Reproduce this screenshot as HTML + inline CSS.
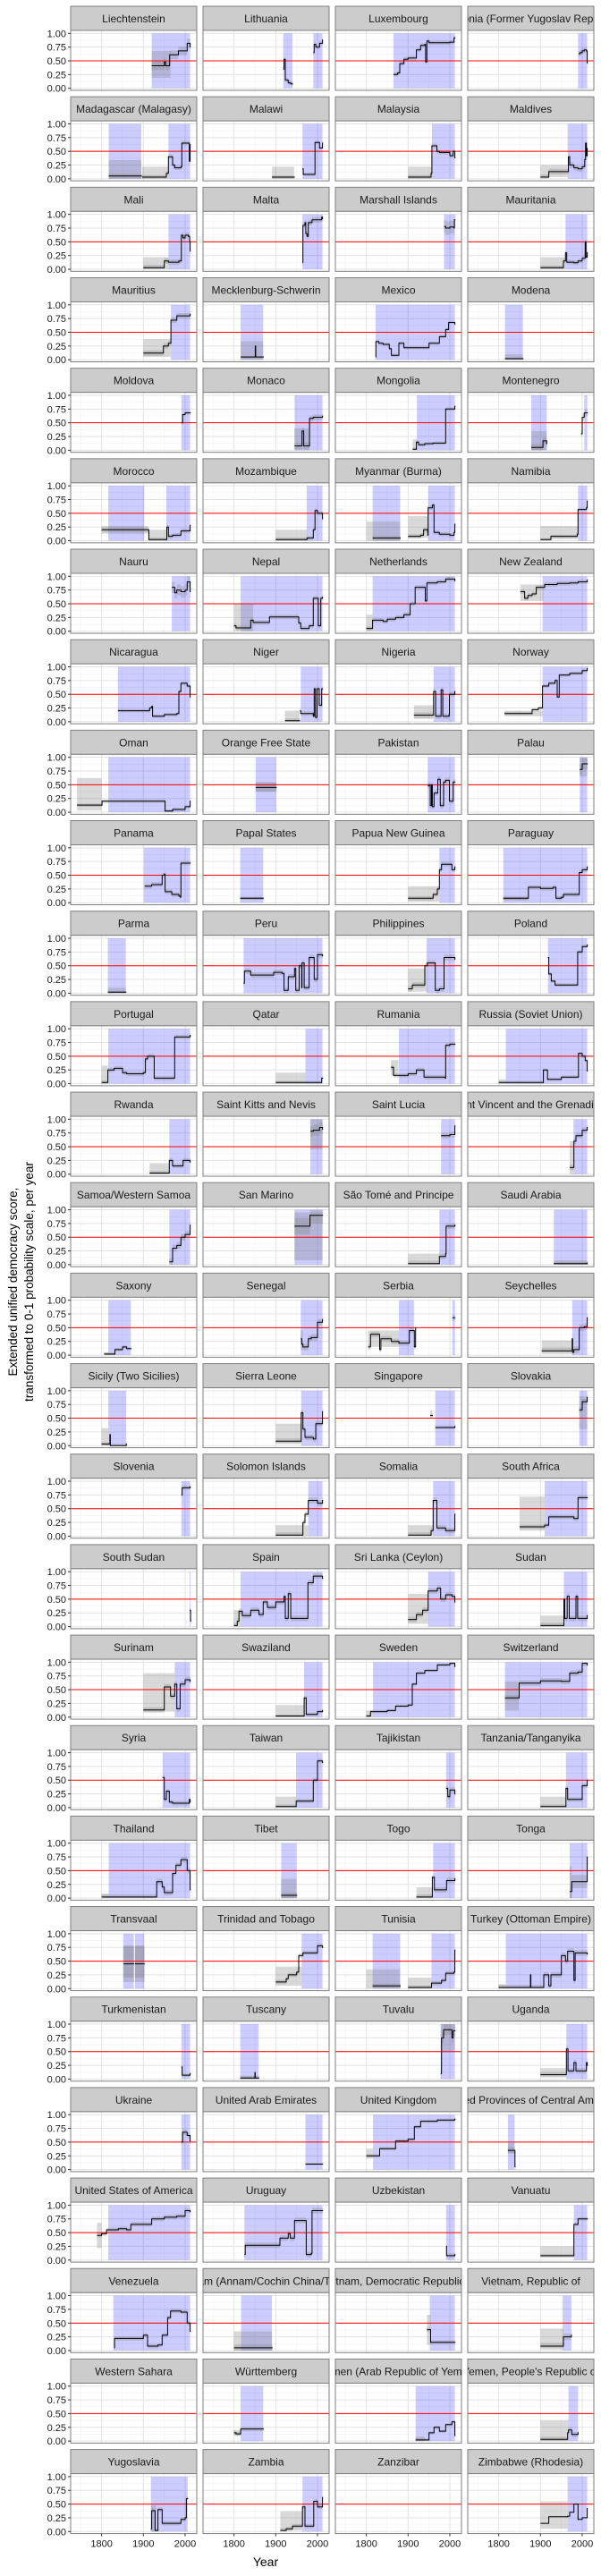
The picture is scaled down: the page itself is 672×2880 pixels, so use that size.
<!DOCTYPE html>
<html><head><meta charset="utf-8">
<style>
body{margin:0;background:#fff;}
#wrap{position:relative;width:672px;height:2880px;overflow:hidden;background:#fff;font-family:"Liberation Sans",Arial,sans-serif;}
svg text{font-family:"Liberation Sans",Arial,sans-serif;}
</style></head>
<body>
<div id="wrap">
<svg id="chart" width="672" height="2880" viewBox="0 0 672 2880" xmlns="http://www.w3.org/2000/svg">
<text x="0" y="0" transform="translate(19,1433) rotate(-90)" text-anchor="middle" font-size="13.5" fill="#000">Extended unified democracy score,</text>
<text x="0" y="0" transform="translate(37,1433) rotate(-90)" text-anchor="middle" font-size="13.5" fill="#000">transformed to 0-1 probability scale, per year</text>
<text x="297" y="2869" text-anchor="middle" font-size="14" fill="#000">Year</text>
</svg>
</div>
<script>
const countries=["Liechtenstein","Lithuania","Luxembourg","Macedonia (Former Yugoslav Republic of)",
"Madagascar (Malagasy)","Malawi","Malaysia","Maldives",
"Mali","Malta","Marshall Islands","Mauritania",
"Mauritius","Mecklenburg-Schwerin","Mexico","Modena",
"Moldova","Monaco","Mongolia","Montenegro",
"Morocco","Mozambique","Myanmar (Burma)","Namibia",
"Nauru","Nepal","Netherlands","New Zealand",
"Nicaragua","Niger","Nigeria","Norway",
"Oman","Orange Free State","Pakistan","Palau",
"Panama","Papal States","Papua New Guinea","Paraguay",
"Parma","Peru","Philippines","Poland",
"Portugal","Qatar","Rumania","Russia (Soviet Union)",
"Rwanda","Saint Kitts and Nevis","Saint Lucia","Saint Vincent and the Grenadines",
"Samoa/Western Samoa","San Marino","São Tomé and Principe","Saudi Arabia",
"Saxony","Senegal","Serbia","Seychelles",
"Sicily (Two Sicilies)","Sierra Leone","Singapore","Slovakia",
"Slovenia","Solomon Islands","Somalia","South Africa",
"South Sudan","Spain","Sri Lanka (Ceylon)","Sudan",
"Surinam","Swaziland","Sweden","Switzerland",
"Syria","Taiwan","Tajikistan","Tanzania/Tanganyika",
"Thailand","Tibet","Togo","Tonga",
"Transvaal","Trinidad and Tobago","Tunisia","Turkey (Ottoman Empire)",
"Turkmenistan","Tuscany","Tuvalu","Uganda",
"Ukraine","United Arab Emirates","United Kingdom","United Provinces of Central America",
"United States of America","Uruguay","Uzbekistan","Vanuatu",
"Venezuela","Vietnam (Annam/Cochin China/Tonkin)","Vietnam, Democratic Republic of","Vietnam, Republic of",
"Western Sahara","Württemberg","Yemen (Arab Republic of Yemen)","Yemen, People's Republic of",
"Yugoslavia","Zambia","Zanzibar","Zimbabwe (Rhodesia)"];
// blue spans per country [start,end]
const blueSpans=[
[[1920,2012]],[[1918,1940],[1990,2012]],[[1865,2012]],[[1990,2012]],
[[1817,1895],[1960,2012]],[[1964,2012]],[[1957,2012]],[[1965,2012]],
[[1960,2012]],[[1964,2012]],[[1986,2012]],[[1960,2012]],
[[1966,2012]],[[1816,1870]],[[1822,2012]],[[1815,1858]],
[[1991,2012]],[[1945,2012]],[[1921,2012]],[[1878,1915],[2005,2012]],
[[1816,1902],[1955,2012]],[[1974,2012]],[[1815,1881],[1948,2012]],[[1990,2012]],
[[1968,2012]],[[1816,2012]],[[1815,2012]],[[1905,2012]],
[[1839,2012]],[[1960,2012]],[[1961,2012]],[[1905,2012]],
[[1816,2012]],[[1852,1901]],[[1947,2012]],[[1994,2012]],
[[1901,2012]],[[1815,1870]],[[1975,2012]],[[1811,2012]],
[[1815,1858]],[[1823,2012]],[[1944,2012]],[[1918,2012]],
[[1816,2012]],[[1971,2012]],[[1878,2012]],[[1817,2012]],
[[1962,2012]],[[1983,2012]],[[1979,2012]],[[1979,2012]],
[[1962,2012]],[[1945,2012]],[[1975,2012]],[[1932,2012]],
[[1816,1870]],[[1960,2012]],[[1878,1914],[2006,2012]],[[1976,2012]],
[[1816,1859]],[[1961,2012]],[[1965,2012]],[[1993,2012]],
[[1991,2012]],[[1978,2012]],[[1960,2012]],[[1910,2012]],
[[2011,2013]],[[1816,2012]],[[1948,2012]],[[1956,2012]],
[[1975,2012]],[[1968,2012]],[[1816,2012]],[[1815,2012]],
[[1946,2012]],[[1949,2012]],[[1991,2012]],[[1961,2012]],
[[1817,2012]],[[1913,1950]],[[1960,2012]],[[1970,2012]],
[[1852,1877],[1880,1902]],[[1962,2012]],[[1815,1881],[1956,2012]],[[1817,2012]],
[[1991,2012]],[[1815,1859]],[[1978,2012]],[[1962,2012]],
[[1991,2012]],[[1971,2012]],[[1816,2012]],[[1822,1838]],
[[1816,2012]],[[1825,2012]],[[1991,2012]],[[1980,2012]],
[[1828,2012]],[[1817,1891]],[[1952,2012]],[[1953,1974]],
[],[[1816,1870]],[[1918,2012]],[[1967,1990]],
[[1918,2006]],[[1964,2012]],[],[[1965,2012]]];
// grey uncertainty boxes [start,end,low,high]
const greyBoxes=[
[[1920,1965,0.19,0.68]],[],[],[],
[[1817,1895,0,0.34],[1897,1960,0,0.22]],[[1891,1944,0,0.22]],[[1900,1957,0,0.22]],[[1900,1965,0.03,0.25]],
[[1900,1960,0,0.22]],[],[],[[1900,1960,0,0.22]],
[[1900,1966,0.05,0.38]],[[1816,1870,0,0.34]],[],[[1815,1858,0,0.1]],
[],[[1945,1980,0,0.4]],[[1911,1921,0,0.2]],[[1878,1915,0,0.35]],
[[1800,1912,0.13,0.27],[1912,1956,0,0.2]],[[1900,1975,0,0.2]],[[1800,1881,0,0.35],[1900,1948,0.05,0.45]],[[1900,1990,0.03,0.27]],
[],[[1800,1846,0,0.5]],[[1800,1815,0,0.3]],[[1852,1907,0.55,0.85]],
[],[[1922,1957,0,0.2]],[[1914,1960,0.05,0.3]],[[1814,1905,0.1,0.2]],
[[1741,1800,0.03,0.62]],[[1852,1901,0.38,0.55]],[],[[1994,2012,0.65,1]],
[],[[1815,1870,0.05,0.11]],[[1900,1975,0.02,0.3]],[[1811,1870,0.05,0.1]],
[[1815,1858,0,0.1]],[],[[1900,1946,0.03,0.45]],[],
[[1800,1815,0,0.33]],[[1900,1971,0,0.2]],[[1859,1877,0.15,0.43]],[[1800,1817,0,0.08]],
[[1915,1962,0,0.2]],[[1983,2012,0.45,1]],[],[[1970,1979,0,0.6]],
[],[[1945,2012,0.08,0.95]],[[1900,1975,0,0.2]],[[1932,2012,0,0.08]],
[[1806,1816,0,0.05]],[[1960,1965,0.1,0.45]],[[1804,1878,0.15,0.45]],[[1903,1976,0.05,0.27]],
[[1800,1816,0,0.32]],[[1900,1961,0.05,0.4]],[[1953,1958,0.5,0.65]],[[1993,2012,0.3,0.9]],
[],[[1900,1978,0,0.2]],[[1900,1960,0,0.2]],[[1850,1910,0.1,0.72]],
[],[[1800,1816,0,0.3]],[[1900,1948,0.05,0.6]],[[1900,1956,0,0.2]],
[[1900,1975,0.1,0.8]],[[1900,1968,0,0.22]],[[1800,1816,0,0.12]],[[1815,1848,0.12,0.65]],
[],[[1900,1949,0,0.2]],[],[[1900,1961,0,0.2]],
[[1800,1817,0,0.08]],[[1913,1950,0,0.35]],[[1920,1960,0,0.2]],[[1970,1975,0,0.58]],
[[1852,1877,0.2,0.78],[1880,1902,0.2,0.78]],[[1900,1962,0.05,0.4]],[[1800,1881,0,0.35],[1900,1956,0,0.2]],[[1800,1817,0,0.08]],
[],[[1815,1859,0,0.06]],[[1978,2012,0.5,1]],[[1900,1962,0.05,0.2]],
[],[],[[1800,1816,0.2,0.38]],[[1822,1838,0.3,0.48]],
[[1789,1800,0.22,0.68]],[],[],[[1900,1980,0.05,0.25]],
[],[[1800,1891,0,0.35]],[[1945,1954,0.1,0.65]],[[1900,1955,0.05,0.4]],
[],[[1800,1816,0.1,0.2]],[[1918,1940,0,0.08]],[[1900,1967,0,0.38]],
[[1918,1930,0,0.48]],[[1911,1964,0.02,0.37]],[],[[1900,1965,0.05,0.55]]];
// series segments, flat [year,value,...]
const series=[
[[1920,.41,1950,.48,1953,.41,1963,.61,1981,.61,1984,.68,2005,.82,2012,.75]],
[[1918,.35,1920,.53,1923,.15,1930,.1,1936,.08,1940,.08],[1990,.65,1992,.8,1996,.75,2005,.82,2012,.88]],
[[1865,.25,1875,.28,1880,.45,1890,.53,1900,.55,1920,.7,1930,.78,1940,.8,1942,.48,1945,.86,1950,.83,2000,.84,2010,.92,2012,.92]],
[[1991,.63,1995,.65,2000,.68,2005,.7,2010,.68,2012,.46]],
[[1817,.05,1895,.05],[1897,.03,1947,.03,1955,.1,1960,.4,1967,.4,1970,.25,1975,.2,1990,.22,1992,.65,2000,.65,2008,.65,2010,.32,2012,.62]],
[[1891,.03,1944,.03],[1964,.18,1966,.08,1993,.08,1994,.66,2005,.56,2012,.65]],
[[1900,.03,1950,.03,1955,.1,1957,.6,1969,.5,1975,.48,2000,.42,2008,.5,2012,.38]],
[[1900,.03,1920,.13,1965,.13,1967,.4,1970,.25,1980,.2,1990,.18,2000,.22,2006,.35,2008,.65,2010,.42,2012,.55]],
[[1900,.03,1946,.03,1950,.15,1960,.13,1985,.15,1991,.62,1995,.57,2000,.62,2008,.6,2011,.5,2012,.33]],
[[1964,.12,1965,.8,1970,.85,1972,.65,1975,.6,1978,.85,1987,.9,2010,.95,2012,.92]],
[[1986,.78,1990,.75,2000,.77,2010,.75,2011,.9,2012,.9]],
[[1900,.03,1955,.15,1960,.3,1963,.13,1980,.12,1990,.15,2000,.2,2007,.5,2009,.22,2012,.3]],
[[1900,.12,1947,.12,1948,.25,1960,.3,1966,.72,1980,.8,2000,.8,2012,.83]],
[[1816,.05,1850,.05,1851,.25,1852,.05,1870,.05]],
[[1822,.05,1823,.33,1830,.3,1840,.28,1855,.2,1860,.08,1875,.08,1878,.3,1890,.22,1935,.22,1950,.3,1975,.42,1990,.55,1997,.68,2012,.65]],
[[1815,.02,1858,.02]],
[[1991,.5,1994,.65,2000,.68,2012,.68]],
[[1945,.08,1962,.08,1963,.35,1967,.08,1980,.08,1981,.58,1990,.6,2012,.62]],
[[1911,.02,1920,.15,1925,.1,1940,.12,1960,.13,1989,.13,1990,.75,2012,.8]],
[[1878,.05,1905,.05,1906,.17,1915,.12],[1997,.3,2000,.6,2005,.68,2012,.68]],
[[1800,.2,1912,.2,1913,.02,1955,.02,1956,.25,1960,.08,1970,.1,1990,.18,2012,.28]],
[[1900,.02,1975,.05,1990,.2,1994,.55,2000,.5,2012,.4]],
[[1815,.05,1881,.05],[1900,.08,1930,.1,1937,.2,1947,.1,1948,.6,1958,.65,1962,.15,1975,.12,2000,.1,2010,.15,2012,.3]],
[[1900,.02,1925,.08,1970,.08,1988,.12,1990,.57,2010,.6,2012,.72]],
[[1968,.8,1975,.7,1980,.75,1990,.72,2000,.75,2005,.9,2012,.72]],
[[1800,.1,1805,.06,1835,.06,1840,.2,1846,.16,1880,.16,1885,.26,1950,.26,1955,.15,1960,.05,1980,.1,1990,.6,2000,.6,2002,.1,2008,.6,2012,.62]],
[[1800,.05,1815,.2,1840,.18,1850,.22,1870,.25,1890,.3,1900,.3,1905,.5,1917,.8,1940,.8,1941,.55,1945,.88,1970,.9,1990,.95,2012,.92]],
[[1852,.72,1860,.72,1862,.6,1870,.65,1880,.68,1890,.8,1910,.85,1940,.87,1970,.88,1990,.9,2012,.93]],
[[1839,.2,1900,.2,1915,.25,1920,.28,1922,.1,1950,.13,1980,.15,1985,.55,1990,.7,2005,.65,2012,.45]],
[[1922,.02,1957,.02],[1958,.2,1960,.15,1990,.1,1992,.6,1995,.08,1999,.6,2004,.3,2010,.6,2012,.6]],
[[1914,.12,1960,.12,1961,.55,1966,.1,1979,.58,1983,.1,1998,.12,1999,.5,2012,.55]],
[[1814,.15,1870,.15,1880,.22,1895,.25,1905,.65,1920,.7,1935,.75,1940,.45,1945,.85,1970,.88,2000,.93,2012,.97]],
[[1741,.13,1800,.13,1801,.2,1950,.2,1952,.02,1970,.05,2000,.1,2012,.2]],
[[1852,.45,1901,.45]],
[[1947,.48,1950,.5,1953,.12,1956,.5,1958,.1,1962,.35,1971,.6,1977,.12,1985,.55,1990,.58,1999,.2,2008,.55,2012,.55]],
[[1994,.78,2000,.88,2012,.88]],
[[1903,.3,1920,.33,1940,.33,1945,.5,1950,.52,1952,.2,1968,.15,1985,.12,1989,.1,1990,.72,2012,.72]],
[[1815,.08,1870,.08]],
[[1900,.08,1950,.08,1960,.15,1970,.25,1975,.6,1980,.7,1995,.7,2005,.6,2012,.65]],
[[1811,.08,1870,.08,1871,.28,1900,.26,1930,.28,1937,.08,1950,.1,1955,.15,1990,.15,1993,.55,2000,.6,2012,.65]],
[[1815,.02,1858,.02]],
[[1823,.18,1825,.4,1840,.33,1890,.33,1895,.38,1915,.36,1920,.05,1930,.3,1945,.45,1948,.05,1956,.5,1962,.1,1963,.55,1968,.1,1980,.65,1990,.65,1992,.25,2000,.7,2012,.68]],
[[1900,.08,1910,.15,1935,.15,1940,.5,1946,.55,1960,.55,1965,.05,1975,.08,1986,.65,2000,.65,2012,.62]],
[[1918,.65,1920,.35,1926,.22,1935,.15,1980,.15,1989,.75,2000,.85,2012,.88]],
[[1800,.02,1815,.25,1830,.28,1850,.2,1860,.18,1900,.2,1905,.45,1910,.5,1926,.1,1970,.1,1975,.85,2012,.88]],
[[1900,.02,1990,.02,2010,.1,2012,.1]],
[[1859,.3,1865,.15,1880,.15,1900,.18,1920,.25,1935,.25,1938,.12,1945,.12,1989,.1,1990,.7,2000,.72,2012,.72]],
[[1800,.02,1905,.02,1907,.25,1917,.08,1930,.08,1950,.12,1985,.12,1991,.55,2000,.5,2007,.42,2012,.23]],
[[1915,.02,1961,.02,1962,.25,1970,.15,1980,.15,1995,.25,2012,.22]],
[[1983,.78,1990,.8,2005,.85,2012,.82]],
[[1979,.7,2000,.72,2012,.88]],
[[1970,.12,1979,.12,1980,.6,1985,.7,2000,.8,2012,.85]],
[[1962,.05,1970,.3,1980,.35,1990,.5,2000,.55,2012,.72]],
[[1945,.7,1980,.7,1982,.9,2012,.9]],
[[1900,.02,1974,.02,1975,.15,1990,.2,1991,.7,2012,.72]],
[[1932,.02,2012,.03]],
[[1806,.02,1830,.02,1832,.1,1845,.1,1850,.15,1860,.12,1870,.12]],
[[1960,.3,1962,.2,1965,.15,1978,.3,1985,.32,2000,.6,2012,.65]],
[[1804,.15,1810,.38,1830,.38,1832,.1,1835,.3,1860,.25,1878,.22,1900,.22,1903,.45,1914,.45,1915,.15,1918,.5],[2006,.68,2012,.68]],
[[1903,.08,1976,.3,1977,.05,1980,.1,1993,.5,2005,.52,2012,.68]],
[[1800,.03,1816,.03,1820,.2,1821,0,1850,0,1859,.03]],
[[1900,.08,1955,.08,1961,.6,1965,.3,1970,.15,1990,.12,1996,.4,2012,.62]],
[[1953,.55,1958,.55],[1965,.33,2012,.35]],
[[1993,.65,2000,.8,2012,.88]],
[[1991,.75,1993,.88,2012,.9]],
[[1900,.02,1960,.02,1965,.25,1970,.4,1978,.65,2000,.6,2012,.65]],
[[1900,.02,1955,.1,1960,.65,1969,.15,1990,.1,2010,.1,2012,.4]],
[[1850,.17,1910,.2,1920,.35,1960,.35,1980,.32,1990,.7,2012,.7]],
[[2011,.3,2013,.1]],
[[1800,.02,1808,.1,1812,.28,1820,.2,1840,.3,1860,.22,1870,.45,1880,.35,1900,.45,1920,.55,1923,.15,1930,.6,1936,.15,1975,.15,1977,.8,1990,.92,2012,.88]],
[[1900,.13,1920,.22,1935,.3,1948,.65,1970,.7,1978,.5,1990,.58,2005,.55,2012,.45]],
[[1900,.02,1956,.5,1958,.15,1964,.55,1969,.15,1985,.55,1989,.15,2012,.2]],
[[1900,.13,1948,.13,1950,.55,1965,.38,1975,.6,1980,.15,1988,.6,2000,.68,2012,.65]],
[[1900,.02,1968,.35,1973,.05,2000,.1,2012,.12]],
[[1800,.02,1810,.1,1850,.12,1870,.2,1900,.22,1910,.6,1920,.8,1940,.85,1970,.95,2000,.98,2012,.92]],
[[1815,.35,1848,.35,1849,.62,1900,.66,1950,.65,1970,.8,1990,.82,2000,.98,2012,.95]],
[[1946,.55,1950,.15,1955,.3,1962,.1,1970,.08,2000,.08,2010,.15,2012,.1]],
[[1900,.02,1949,.12,1985,.12,1990,.5,2000,.85,2012,.82]],
[[1991,.35,1995,.2,2000,.32,2012,.25]],
[[1900,.02,1961,.35,1965,.15,1990,.15,2000,.4,2012,.5]],
[[1800,.02,1932,.3,1945,.2,1950,.1,1970,.45,1978,.6,1990,.7,2005,.5,2012,.15]],
[[1913,.05,1950,.05]],
[[1920,.02,1958,.38,1963,.15,1990,.15,1992,.32,2012,.35]],
[[1970,.12,1975,.3,2000,.3,2010,.3,2012,.75]],
[[1852,.45,1877,.45],[1880,.45,1902,.45]],
[[1900,.12,1920,.12,1925,.18,1930,.25,1950,.3,1955,.6,1965,.65,2000,.78,2012,.75]],
[[1815,.05,1881,.05],[1900,.02,1956,.1,1980,.15,1990,.28,2010,.3,2012,.7]],
[[1800,.02,1876,.25,1877,.02,1908,.25,1920,.05,1925,.25,1945,.25,1950,.6,1960,.5,1965,.68,1980,.15,1983,.65,2012,.63]],
[[1991,.22,1993,.07,2012,.1]],
[[1815,.02,1850,.12,1851,.02,1859,.02]],
[[1978,.1,1980,.75,1985,.9,2000,.9,2005,.75,2008,.88,2012,.88]],
[[1900,.08,1962,.55,1966,.15,1980,.3,1985,.15,2000,.15,2010,.3,2012,.25]],
[[1991,.5,1994,.68,2005,.62,2012,.52]],
[[1971,.1,2012,.1]],
[[1800,.25,1830,.25,1832,.38,1865,.38,1870,.52,1900,.55,1915,.78,1930,.88,1950,.88,1970,.9,2012,.92]],
[[1822,.35,1838,.35,1839,.05]],
[[1789,.45,1800,.48,1812,.55,1840,.57,1860,.55,1870,.65,1900,.65,1920,.75,1950,.78,1980,.8,2000,.9,2012,.88]],
[[1825,.1,1827,.27,1900,.27,1910,.4,1930,.48,1935,.4,1945,.72,1970,.72,1973,.1,1985,.12,1987,.9,2012,.9]],
[[1991,.25,1992,.08,2012,.1]],
[[1900,.08,1975,.08,1980,.65,1990,.75,2012,.75]],
[[1830,.05,1831,.22,1860,.22,1900,.28,1910,.08,1935,.1,1945,.28,1958,.6,1965,.72,1990,.7,2005,.5,2012,.35]],
[[1800,.05,1891,.05]],
[[1945,.38,1954,.15,2012,.15]],
[[1900,.08,1950,.08,1955,.25,1974,.28]],
[],
[[1800,.15,1805,.13,1816,.22,1870,.22]],
[[1918,.02,1940,.02,1950,.15,1962,.25,1975,.18,1990,.3,2005,.35,2012,.1]],
[[1900,.03,1960,.03,1965,.15,1967,.2,1975,.12,1990,.15]],
[[1918,.05,1920,.38,1928,.02,1935,.4,1945,.15,1980,.15,1990,.22,2000,.25,2003,.6,2006,.6]],
[[1911,.02,1925,.05,1940,.1,1964,.45,1970,.1,1990,.1,1991,.55,2000,.45,2012,.62]],
[],
[[1900,.15,1920,.27,1965,.28,1970,.35,1980,.5,1990,.22,2000,.25,2012,.42]]];
const bandWidth=[.08,.04,.04,.05,.04,.03,.04,.05,.05,.05,.12,.04,.05,.02,.03,.02,.03,.05,.03,.06,.04,.04,.04,.03,.1,.04,.04,.04,.03,.04,.05,.03,.03,.08,.05,.1,.04,.02,.04,.04,.02,.05,.05,.03,.04,.03,.04,.03,.04,.1,.05,.05,.06,.15,.05,.03,.03,.06,.05,.06,.03,.05,.03,.05,.04,.05,.05,.04,.05,.05,.05,.05,.05,.03,.03,.05,.04,.04,.05,.04,.05,.05,.05,.12,.33,.04,.04,.05,.03,.03,.1,.05,.05,.02,.03,.06,.04,.05,.04,.03,.04,.06,.04,.06,.03,.04,.03,.05,.04,.04,.04];
const xTicks=[1800,1900,2000];
const xMinor=[1750,1850,1950];
const yTicks=[0,0.25,0.5,0.75,1];
const yTickLabels=["0.00","0.25","0.50","0.75","1.00"];
const refLine=0.5;

const NS="http://www.w3.org/2000/svg";
const svg=document.getElementById('chart');
const colX=[79,227,375,523],PW=141,ROW0=7,PITCH=101.17,STRIPH=27,PH=67;
const YMIN=1725.9,PXY=0.467;
function el(tag,attrs,parent){const e=document.createElementNS(NS,tag);for(const k in attrs)e.setAttribute(k,attrs[k]);(parent||svg).appendChild(e);return e;}
function sx(x0,yr){return x0+(Math.max(YMIN,Math.min(2028,yr))-YMIN)*PXY;}
function sy(pt,v){v=Math.max(0,Math.min(1,v));return pt+3.3+(1-v)*61.4;}
const nRows=Math.ceil(countries.length/4);
countries.forEach((name,i)=>{
  const c=i%4,r=Math.floor(i/4);
  const x0=colX[c],st=ROW0+r*PITCH,pt=st+STRIPH;
  const g=el('g',{});
  
  
  // clip
  const cid='clip'+i;
  const cp=el('clipPath',{id:cid},g);el('rect',{x:x0,y:pt,width:PW,height:PH},cp);
  const strip=el('rect',{x:x0,y:st,width:PW,height:STRIPH,fill:'#cccccc',stroke:'#7f7f7f','stroke-width':1},g);
  
  
  const scp=el('clipPath',{id:'s'+cid},g);el('rect',{x:x0,y:st,width:PW,height:STRIPH},scp);
  const t=el('text',{x:x0+PW/2,y:st+18,'text-anchor':'middle','font-size':'12',fill:'#1a1a1a','clip-path':'url(#s'+cid+')'},g);
  t.textContent=name;
  
  
  const bg=el('rect',{x:x0,y:pt,width:PW,height:PH,fill:'#fff'},g);
  const inner=el('g',{'clip-path':'url(#'+cid+')'},g);
  xMinor.forEach(yr=>el('line',{x1:sx(x0,yr),x2:sx(x0,yr),y1:pt,y2:pt+PH,stroke:'#f2f2f2','stroke-width':0.6},inner));
  [0.125,0.375,0.625,0.875].forEach(v=>el('line',{x1:x0,x2:x0+PW,y1:sy(pt,v),y2:sy(pt,v),stroke:'#f2f2f2','stroke-width':0.6},inner));
  xTicks.forEach(yr=>el('line',{x1:sx(x0,yr),x2:sx(x0,yr),y1:pt,y2:pt+PH,stroke:'#e3e3e3','stroke-width':1},inner));
  yTicks.forEach(v=>el('line',{x1:x0,x2:x0+PW,y1:sy(pt,v),y2:sy(pt,v),stroke:'#e3e3e3','stroke-width':1},inner));
  blueSpans[i].forEach(s=>{
    const b=el('rect',{x:sx(x0,s[0]),y:sy(pt,1),width:sx(x0,s[1])-sx(x0,s[0]),height:sy(pt,0)-sy(pt,1),fill:'#0000ff','fill-opacity':0.2},inner);
    
    
  });
  greyBoxes[i].forEach(s=>{
    const b=el('rect',{x:sx(x0,s[0]),y:sy(pt,s[3]),width:sx(x0,s[1])-sx(x0,s[0]),height:sy(pt,s[2])-sy(pt,s[3]),fill:'#808080','fill-opacity':0.3},inner);
    
    
  });
  const hw=bandWidth[i];
  series[i].forEach(seg=>{
    const n=seg.length/2;if(n<1)return;
    let up='',lo=[];
    for(let k=0;k<n;k++){
      const yr=seg[2*k],v=seg[2*k+1];
      const xa=sx(x0,yr),xb=k<n-1?sx(x0,seg[2*k+2]):xa+0.6;
      up+=(k?'L':'M')+xa.toFixed(1)+','+sy(pt,v+hw).toFixed(1)+'L'+xb.toFixed(1)+','+sy(pt,v+hw).toFixed(1);
      lo.unshift('L'+xb.toFixed(1)+','+sy(pt,v-hw).toFixed(1)+'L'+xa.toFixed(1)+','+sy(pt,v-hw).toFixed(1));
    }
    const rb=el('path',{d:up+lo.join('')+'Z',fill:'#808080','fill-opacity':0.3},inner);
    
    
  });
  el('line',{x1:x0,x2:x0+PW,y1:sy(pt,refLine),y2:sy(pt,refLine),stroke:'#ff0000','stroke-width':1},inner);
  series[i].forEach(seg=>{
    const n=seg.length/2;if(n<1)return;
    let d='';
    for(let k=0;k<n;k++){
      const xa=sx(x0,seg[2*k]),ya=sy(pt,seg[2*k+1]);
      if(k===0)d+='M'+xa.toFixed(1)+','+ya.toFixed(1);
      else d+='H'+xa.toFixed(1)+'V'+ya.toFixed(1);
    }
    d+='h0.6';
    const ln=el('path',{d:d,fill:'none',stroke:'#000000','stroke-width':1},inner);
    
    
  });
  el('rect',{x:x0,y:pt,width:PW,height:PH,fill:'none',stroke:'#7f7f7f','stroke-width':1},g);
  if(c===0){
    yTicks.forEach((v,k)=>{
      el('line',{x1:x0-3,x2:x0,y1:sy(pt,v),y2:sy(pt,v),stroke:'#333','stroke-width':1},g);
      const tl=el('text',{x:x0-5,y:sy(pt,v)+4,'text-anchor':'end','font-size':'11',fill:'#1a1a1a'},g);
      tl.textContent=yTickLabels[k];
      
      
    });
  }
  if(r===nRows-1){
    xTicks.forEach(yr=>{
      el('line',{x1:sx(x0,yr),x2:sx(x0,yr),y1:pt+PH,y2:pt+PH+3,stroke:'#333','stroke-width':1},g);
      const tl=el('text',{x:sx(x0,yr),y:pt+PH+15,'text-anchor':'middle','font-size':'11',fill:'#1a1a1a'},g);
      tl.textContent=String(yr);
      
      
    });
  }
});
</script>
</body></html>
